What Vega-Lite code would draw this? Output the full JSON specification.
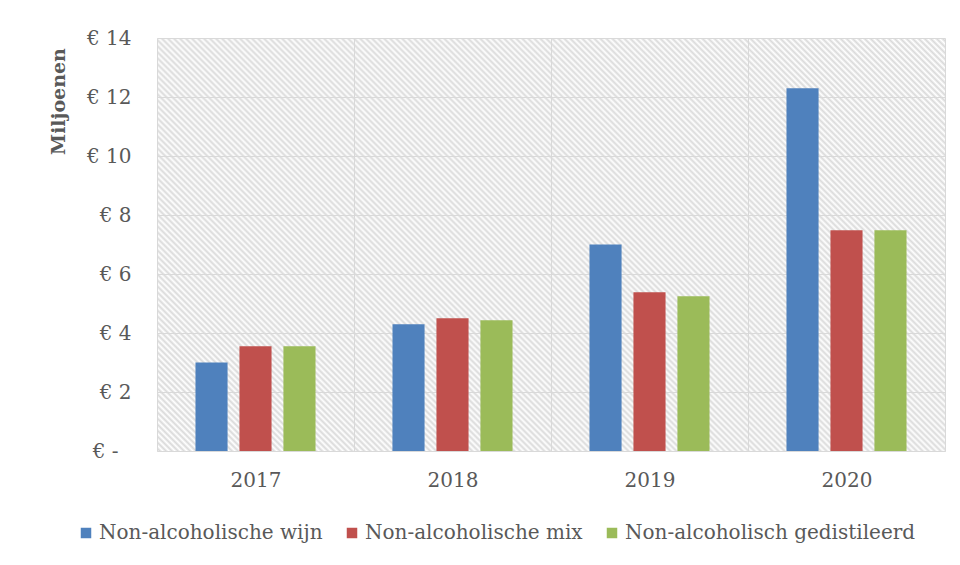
{
  "$schema": "https://vega.github.io/schema/vega-lite/v6.json",
  "width": 788,
  "height": 413,
  "autosize": {"type": "none"},
  "padding": {"left": 157, "top": 38, "right": 15, "bottom": 114},
  "background": "#ffffff",
  "data": {
    "values": [
      {"year": "2017", "series": "Non-alcoholische wijn", "value": 3.0},
      {"year": "2017", "series": "Non-alcoholische mix", "value": 3.55},
      {"year": "2017", "series": "Non-alcoholisch gedistileerd", "value": 3.55},
      {"year": "2018", "series": "Non-alcoholische wijn", "value": 4.3},
      {"year": "2018", "series": "Non-alcoholische mix", "value": 4.5},
      {"year": "2018", "series": "Non-alcoholisch gedistileerd", "value": 4.43},
      {"year": "2019", "series": "Non-alcoholische wijn", "value": 7.0},
      {"year": "2019", "series": "Non-alcoholische mix", "value": 5.38},
      {"year": "2019", "series": "Non-alcoholisch gedistileerd", "value": 5.25},
      {"year": "2020", "series": "Non-alcoholische wijn", "value": 12.3},
      {"year": "2020", "series": "Non-alcoholische mix", "value": 7.48},
      {"year": "2020", "series": "Non-alcoholisch gedistileerd", "value": 7.48}
    ]
  },
  "mark": {"type": "bar"},
  "encoding": {
    "x": {
      "field": "year",
      "type": "nominal",
      "scale": {"paddingInner": 0, "paddingOuter": 0},
      "axis": {
        "title": null,
        "labelAngle": 0,
        "tickBand": "extent",
        "ticks": false,
        "tickSize": 0,
        "grid": true,
        "gridColor": "#d9d9d9",
        "gridWidth": 1,
        "domain": true,
        "domainColor": "#d9d9d9",
        "labelPadding": 19,
        "labelFont": "DejaVu Serif",
        "labelFontSize": 20,
        "labelColor": "#595959"
      }
    },
    "xOffset": {
      "field": "series",
      "type": "nominal",
      "sort": ["Non-alcoholische wijn", "Non-alcoholische mix", "Non-alcoholisch gedistileerd"],
      "scale": {"paddingInner": 0.27, "paddingOuter": 0.875}
    },
    "y": {
      "field": "value",
      "type": "quantitative",
      "scale": {"domain": [0, 14], "nice": false},
      "axis": {
        "title": "Miljoenen",
        "values": [0, 2, 4, 6, 8, 10, 12, 14],
        "labelExpr": "datum.value == 0 ? '€ -' : '€ ' + datum.value",
        "domain": false,
        "ticks": false,
        "tickSize": 0,
        "grid": true,
        "gridColor": "#d9d9d9",
        "gridWidth": 1,
        "labelPadding": {"condition": {"test": "datum.value == 0", "value": 39}, "value": 26},
        "labelFont": "DejaVu Serif",
        "labelFontSize": 20,
        "labelColor": "#595959",
        "titleFont": "DejaVu Serif",
        "titleFontSize": 19,
        "titleFontWeight": "bold",
        "titleColor": "#595959",
        "titleX": -99,
        "titleY": 63,
        "titleAngle": -90,
        "titleAlign": "center",
        "titleBaseline": "middle"
      }
    },
    "color": {
      "field": "series",
      "type": "nominal",
      "scale": {
        "domain": ["Non-alcoholische wijn", "Non-alcoholische mix", "Non-alcoholisch gedistileerd"],
        "range": ["#4f81bd", "#c0504d", "#9bbb59"]
      },
      "legend": {
        "title": null,
        "orient": "none",
        "direction": "horizontal",
        "legendX": -81,
        "legendY": 485,
        "padding": 0,
        "symbolType": "square",
        "symbolSize": 110,
        "symbolStrokeWidth": 0,
        "labelFont": "DejaVu Serif",
        "labelFontSize": 20,
        "labelColor": "#595959",
        "labelOffset": 3,
        "columnPadding": 19,
        "labelLimit": 400
      }
    }
  },
  "config": {
    "view": {
      "stroke": null,
      "fill": {
        "gradient": "linear",
        "x1": 0, "y1": 1, "x2": 1.1957, "y2": 0.3734,
        "stops": [
{"offset":0.00,"color":"#fff"},{"offset":0.0025,"color":"#dadada"},{"offset":0.005,"color":"#fff"},{"offset":0.0075,"color":"#dadada"},
{"offset":0.01,"color":"#fff"},{"offset":0.0125,"color":"#dadada"},{"offset":0.015,"color":"#fff"},{"offset":0.0175,"color":"#dadada"},
{"offset":0.02,"color":"#fff"},{"offset":0.0225,"color":"#dadada"},{"offset":0.025,"color":"#fff"},{"offset":0.0275,"color":"#dadada"},
{"offset":0.03,"color":"#fff"},{"offset":0.0325,"color":"#dadada"},{"offset":0.035,"color":"#fff"},{"offset":0.0375,"color":"#dadada"},
{"offset":0.04,"color":"#fff"},{"offset":0.0425,"color":"#dadada"},{"offset":0.045,"color":"#fff"},{"offset":0.0475,"color":"#dadada"},
{"offset":0.05,"color":"#fff"},{"offset":0.0525,"color":"#dadada"},{"offset":0.055,"color":"#fff"},{"offset":0.0575,"color":"#dadada"},
{"offset":0.06,"color":"#fff"},{"offset":0.0625,"color":"#dadada"},{"offset":0.065,"color":"#fff"},{"offset":0.0675,"color":"#dadada"},
{"offset":0.07,"color":"#fff"},{"offset":0.0725,"color":"#dadada"},{"offset":0.075,"color":"#fff"},{"offset":0.0775,"color":"#dadada"},
{"offset":0.08,"color":"#fff"},{"offset":0.0825,"color":"#dadada"},{"offset":0.085,"color":"#fff"},{"offset":0.0875,"color":"#dadada"},
{"offset":0.09,"color":"#fff"},{"offset":0.0925,"color":"#dadada"},{"offset":0.095,"color":"#fff"},{"offset":0.0975,"color":"#dadada"},
{"offset":0.10,"color":"#fff"},{"offset":0.1025,"color":"#dadada"},{"offset":0.105,"color":"#fff"},{"offset":0.1075,"color":"#dadada"},
{"offset":0.11,"color":"#fff"},{"offset":0.1125,"color":"#dadada"},{"offset":0.115,"color":"#fff"},{"offset":0.1175,"color":"#dadada"},
{"offset":0.12,"color":"#fff"},{"offset":0.1225,"color":"#dadada"},{"offset":0.125,"color":"#fff"},{"offset":0.1275,"color":"#dadada"},
{"offset":0.13,"color":"#fff"},{"offset":0.1325,"color":"#dadada"},{"offset":0.135,"color":"#fff"},{"offset":0.1375,"color":"#dadada"},
{"offset":0.14,"color":"#fff"},{"offset":0.1425,"color":"#dadada"},{"offset":0.145,"color":"#fff"},{"offset":0.1475,"color":"#dadada"},
{"offset":0.15,"color":"#fff"},{"offset":0.1525,"color":"#dadada"},{"offset":0.155,"color":"#fff"},{"offset":0.1575,"color":"#dadada"},
{"offset":0.16,"color":"#fff"},{"offset":0.1625,"color":"#dadada"},{"offset":0.165,"color":"#fff"},{"offset":0.1675,"color":"#dadada"},
{"offset":0.17,"color":"#fff"},{"offset":0.1725,"color":"#dadada"},{"offset":0.175,"color":"#fff"},{"offset":0.1775,"color":"#dadada"},
{"offset":0.18,"color":"#fff"},{"offset":0.1825,"color":"#dadada"},{"offset":0.185,"color":"#fff"},{"offset":0.1875,"color":"#dadada"},
{"offset":0.19,"color":"#fff"},{"offset":0.1925,"color":"#dadada"},{"offset":0.195,"color":"#fff"},{"offset":0.1975,"color":"#dadada"},
{"offset":0.20,"color":"#fff"},{"offset":0.2025,"color":"#dadada"},{"offset":0.205,"color":"#fff"},{"offset":0.2075,"color":"#dadada"},
{"offset":0.21,"color":"#fff"},{"offset":0.2125,"color":"#dadada"},{"offset":0.215,"color":"#fff"},{"offset":0.2175,"color":"#dadada"},
{"offset":0.22,"color":"#fff"},{"offset":0.2225,"color":"#dadada"},{"offset":0.225,"color":"#fff"},{"offset":0.2275,"color":"#dadada"},
{"offset":0.23,"color":"#fff"},{"offset":0.2325,"color":"#dadada"},{"offset":0.235,"color":"#fff"},{"offset":0.2375,"color":"#dadada"},
{"offset":0.24,"color":"#fff"},{"offset":0.2425,"color":"#dadada"},{"offset":0.245,"color":"#fff"},{"offset":0.2475,"color":"#dadada"},
{"offset":0.25,"color":"#fff"},{"offset":0.2525,"color":"#dadada"},{"offset":0.255,"color":"#fff"},{"offset":0.2575,"color":"#dadada"},
{"offset":0.26,"color":"#fff"},{"offset":0.2625,"color":"#dadada"},{"offset":0.265,"color":"#fff"},{"offset":0.2675,"color":"#dadada"},
{"offset":0.27,"color":"#fff"},{"offset":0.2725,"color":"#dadada"},{"offset":0.275,"color":"#fff"},{"offset":0.2775,"color":"#dadada"},
{"offset":0.28,"color":"#fff"},{"offset":0.2825,"color":"#dadada"},{"offset":0.285,"color":"#fff"},{"offset":0.2875,"color":"#dadada"},
{"offset":0.29,"color":"#fff"},{"offset":0.2925,"color":"#dadada"},{"offset":0.295,"color":"#fff"},{"offset":0.2975,"color":"#dadada"},
{"offset":0.30,"color":"#fff"},{"offset":0.3025,"color":"#dadada"},{"offset":0.305,"color":"#fff"},{"offset":0.3075,"color":"#dadada"},
{"offset":0.31,"color":"#fff"},{"offset":0.3125,"color":"#dadada"},{"offset":0.315,"color":"#fff"},{"offset":0.3175,"color":"#dadada"},
{"offset":0.32,"color":"#fff"},{"offset":0.3225,"color":"#dadada"},{"offset":0.325,"color":"#fff"},{"offset":0.3275,"color":"#dadada"},
{"offset":0.33,"color":"#fff"},{"offset":0.3325,"color":"#dadada"},{"offset":0.335,"color":"#fff"},{"offset":0.3375,"color":"#dadada"},
{"offset":0.34,"color":"#fff"},{"offset":0.3425,"color":"#dadada"},{"offset":0.345,"color":"#fff"},{"offset":0.3475,"color":"#dadada"},
{"offset":0.35,"color":"#fff"},{"offset":0.3525,"color":"#dadada"},{"offset":0.355,"color":"#fff"},{"offset":0.3575,"color":"#dadada"},
{"offset":0.36,"color":"#fff"},{"offset":0.3625,"color":"#dadada"},{"offset":0.365,"color":"#fff"},{"offset":0.3675,"color":"#dadada"},
{"offset":0.37,"color":"#fff"},{"offset":0.3725,"color":"#dadada"},{"offset":0.375,"color":"#fff"},{"offset":0.3775,"color":"#dadada"},
{"offset":0.38,"color":"#fff"},{"offset":0.3825,"color":"#dadada"},{"offset":0.385,"color":"#fff"},{"offset":0.3875,"color":"#dadada"},
{"offset":0.39,"color":"#fff"},{"offset":0.3925,"color":"#dadada"},{"offset":0.395,"color":"#fff"},{"offset":0.3975,"color":"#dadada"},
{"offset":0.40,"color":"#fff"},{"offset":0.4025,"color":"#dadada"},{"offset":0.405,"color":"#fff"},{"offset":0.4075,"color":"#dadada"},
{"offset":0.41,"color":"#fff"},{"offset":0.4125,"color":"#dadada"},{"offset":0.415,"color":"#fff"},{"offset":0.4175,"color":"#dadada"},
{"offset":0.42,"color":"#fff"},{"offset":0.4225,"color":"#dadada"},{"offset":0.425,"color":"#fff"},{"offset":0.4275,"color":"#dadada"},
{"offset":0.43,"color":"#fff"},{"offset":0.4325,"color":"#dadada"},{"offset":0.435,"color":"#fff"},{"offset":0.4375,"color":"#dadada"},
{"offset":0.44,"color":"#fff"},{"offset":0.4425,"color":"#dadada"},{"offset":0.445,"color":"#fff"},{"offset":0.4475,"color":"#dadada"},
{"offset":0.45,"color":"#fff"},{"offset":0.4525,"color":"#dadada"},{"offset":0.455,"color":"#fff"},{"offset":0.4575,"color":"#dadada"},
{"offset":0.46,"color":"#fff"},{"offset":0.4625,"color":"#dadada"},{"offset":0.465,"color":"#fff"},{"offset":0.4675,"color":"#dadada"},
{"offset":0.47,"color":"#fff"},{"offset":0.4725,"color":"#dadada"},{"offset":0.475,"color":"#fff"},{"offset":0.4775,"color":"#dadada"},
{"offset":0.48,"color":"#fff"},{"offset":0.4825,"color":"#dadada"},{"offset":0.485,"color":"#fff"},{"offset":0.4875,"color":"#dadada"},
{"offset":0.49,"color":"#fff"},{"offset":0.4925,"color":"#dadada"},{"offset":0.495,"color":"#fff"},{"offset":0.4975,"color":"#dadada"},
{"offset":0.50,"color":"#fff"},{"offset":0.5025,"color":"#dadada"},{"offset":0.505,"color":"#fff"},{"offset":0.5075,"color":"#dadada"},
{"offset":0.51,"color":"#fff"},{"offset":0.5125,"color":"#dadada"},{"offset":0.515,"color":"#fff"},{"offset":0.5175,"color":"#dadada"},
{"offset":0.52,"color":"#fff"},{"offset":0.5225,"color":"#dadada"},{"offset":0.525,"color":"#fff"},{"offset":0.5275,"color":"#dadada"},
{"offset":0.53,"color":"#fff"},{"offset":0.5325,"color":"#dadada"},{"offset":0.535,"color":"#fff"},{"offset":0.5375,"color":"#dadada"},
{"offset":0.54,"color":"#fff"},{"offset":0.5425,"color":"#dadada"},{"offset":0.545,"color":"#fff"},{"offset":0.5475,"color":"#dadada"},
{"offset":0.55,"color":"#fff"},{"offset":0.5525,"color":"#dadada"},{"offset":0.555,"color":"#fff"},{"offset":0.5575,"color":"#dadada"},
{"offset":0.56,"color":"#fff"},{"offset":0.5625,"color":"#dadada"},{"offset":0.565,"color":"#fff"},{"offset":0.5675,"color":"#dadada"},
{"offset":0.57,"color":"#fff"},{"offset":0.5725,"color":"#dadada"},{"offset":0.575,"color":"#fff"},{"offset":0.5775,"color":"#dadada"},
{"offset":0.58,"color":"#fff"},{"offset":0.5825,"color":"#dadada"},{"offset":0.585,"color":"#fff"},{"offset":0.5875,"color":"#dadada"},
{"offset":0.59,"color":"#fff"},{"offset":0.5925,"color":"#dadada"},{"offset":0.595,"color":"#fff"},{"offset":0.5975,"color":"#dadada"},
{"offset":0.60,"color":"#fff"},{"offset":0.6025,"color":"#dadada"},{"offset":0.605,"color":"#fff"},{"offset":0.6075,"color":"#dadada"},
{"offset":0.61,"color":"#fff"},{"offset":0.6125,"color":"#dadada"},{"offset":0.615,"color":"#fff"},{"offset":0.6175,"color":"#dadada"},
{"offset":0.62,"color":"#fff"},{"offset":0.6225,"color":"#dadada"},{"offset":0.625,"color":"#fff"},{"offset":0.6275,"color":"#dadada"},
{"offset":0.63,"color":"#fff"},{"offset":0.6325,"color":"#dadada"},{"offset":0.635,"color":"#fff"},{"offset":0.6375,"color":"#dadada"},
{"offset":0.64,"color":"#fff"},{"offset":0.6425,"color":"#dadada"},{"offset":0.645,"color":"#fff"},{"offset":0.6475,"color":"#dadada"},
{"offset":0.65,"color":"#fff"},{"offset":0.6525,"color":"#dadada"},{"offset":0.655,"color":"#fff"},{"offset":0.6575,"color":"#dadada"},
{"offset":0.66,"color":"#fff"},{"offset":0.6625,"color":"#dadada"},{"offset":0.665,"color":"#fff"},{"offset":0.6675,"color":"#dadada"},
{"offset":0.67,"color":"#fff"},{"offset":0.6725,"color":"#dadada"},{"offset":0.675,"color":"#fff"},{"offset":0.6775,"color":"#dadada"},
{"offset":0.68,"color":"#fff"},{"offset":0.6825,"color":"#dadada"},{"offset":0.685,"color":"#fff"},{"offset":0.6875,"color":"#dadada"},
{"offset":0.69,"color":"#fff"},{"offset":0.6925,"color":"#dadada"},{"offset":0.695,"color":"#fff"},{"offset":0.6975,"color":"#dadada"},
{"offset":0.70,"color":"#fff"},{"offset":0.7025,"color":"#dadada"},{"offset":0.705,"color":"#fff"},{"offset":0.7075,"color":"#dadada"},
{"offset":0.71,"color":"#fff"},{"offset":0.7125,"color":"#dadada"},{"offset":0.715,"color":"#fff"},{"offset":0.7175,"color":"#dadada"},
{"offset":0.72,"color":"#fff"},{"offset":0.7225,"color":"#dadada"},{"offset":0.725,"color":"#fff"},{"offset":0.7275,"color":"#dadada"},
{"offset":0.73,"color":"#fff"},{"offset":0.7325,"color":"#dadada"},{"offset":0.735,"color":"#fff"},{"offset":0.7375,"color":"#dadada"},
{"offset":0.74,"color":"#fff"},{"offset":0.7425,"color":"#dadada"},{"offset":0.745,"color":"#fff"},{"offset":0.7475,"color":"#dadada"},
{"offset":0.75,"color":"#fff"},{"offset":0.7525,"color":"#dadada"},{"offset":0.755,"color":"#fff"},{"offset":0.7575,"color":"#dadada"},
{"offset":0.76,"color":"#fff"},{"offset":0.7625,"color":"#dadada"},{"offset":0.765,"color":"#fff"},{"offset":0.7675,"color":"#dadada"},
{"offset":0.77,"color":"#fff"},{"offset":0.7725,"color":"#dadada"},{"offset":0.775,"color":"#fff"},{"offset":0.7775,"color":"#dadada"},
{"offset":0.78,"color":"#fff"},{"offset":0.7825,"color":"#dadada"},{"offset":0.785,"color":"#fff"},{"offset":0.7875,"color":"#dadada"},
{"offset":0.79,"color":"#fff"},{"offset":0.7925,"color":"#dadada"},{"offset":0.795,"color":"#fff"},{"offset":0.7975,"color":"#dadada"},
{"offset":0.80,"color":"#fff"},{"offset":0.8025,"color":"#dadada"},{"offset":0.805,"color":"#fff"},{"offset":0.8075,"color":"#dadada"},
{"offset":0.81,"color":"#fff"},{"offset":0.8125,"color":"#dadada"},{"offset":0.815,"color":"#fff"},{"offset":0.8175,"color":"#dadada"},
{"offset":0.82,"color":"#fff"},{"offset":0.8225,"color":"#dadada"},{"offset":0.825,"color":"#fff"},{"offset":0.8275,"color":"#dadada"},
{"offset":0.83,"color":"#fff"},{"offset":0.8325,"color":"#dadada"},{"offset":0.835,"color":"#fff"},{"offset":0.8375,"color":"#dadada"},
{"offset":0.84,"color":"#fff"},{"offset":0.8425,"color":"#dadada"},{"offset":0.845,"color":"#fff"},{"offset":0.8475,"color":"#dadada"},
{"offset":0.85,"color":"#fff"},{"offset":0.8525,"color":"#dadada"},{"offset":0.855,"color":"#fff"},{"offset":0.8575,"color":"#dadada"},
{"offset":0.86,"color":"#fff"},{"offset":0.8625,"color":"#dadada"},{"offset":0.865,"color":"#fff"},{"offset":0.8675,"color":"#dadada"},
{"offset":0.87,"color":"#fff"},{"offset":0.8725,"color":"#dadada"},{"offset":0.875,"color":"#fff"},{"offset":0.8775,"color":"#dadada"},
{"offset":0.88,"color":"#fff"},{"offset":0.8825,"color":"#dadada"},{"offset":0.885,"color":"#fff"},{"offset":0.8875,"color":"#dadada"},
{"offset":0.89,"color":"#fff"},{"offset":0.8925,"color":"#dadada"},{"offset":0.895,"color":"#fff"},{"offset":0.8975,"color":"#dadada"},
{"offset":0.90,"color":"#fff"},{"offset":0.9025,"color":"#dadada"},{"offset":0.905,"color":"#fff"},{"offset":0.9075,"color":"#dadada"},
{"offset":0.91,"color":"#fff"},{"offset":0.9125,"color":"#dadada"},{"offset":0.915,"color":"#fff"},{"offset":0.9175,"color":"#dadada"},
{"offset":0.92,"color":"#fff"},{"offset":0.9225,"color":"#dadada"},{"offset":0.925,"color":"#fff"},{"offset":0.9275,"color":"#dadada"},
{"offset":0.93,"color":"#fff"},{"offset":0.9325,"color":"#dadada"},{"offset":0.935,"color":"#fff"},{"offset":0.9375,"color":"#dadada"},
{"offset":0.94,"color":"#fff"},{"offset":0.9425,"color":"#dadada"},{"offset":0.945,"color":"#fff"},{"offset":0.9475,"color":"#dadada"},
{"offset":0.95,"color":"#fff"},{"offset":0.9525,"color":"#dadada"},{"offset":0.955,"color":"#fff"},{"offset":0.9575,"color":"#dadada"},
{"offset":0.96,"color":"#fff"},{"offset":0.9625,"color":"#dadada"},{"offset":0.965,"color":"#fff"},{"offset":0.9675,"color":"#dadada"},
{"offset":0.97,"color":"#fff"},{"offset":0.9725,"color":"#dadada"},{"offset":0.975,"color":"#fff"},{"offset":0.9775,"color":"#dadada"},
{"offset":0.98,"color":"#fff"},{"offset":0.9825,"color":"#dadada"},{"offset":0.985,"color":"#fff"},{"offset":0.9875,"color":"#dadada"},
{"offset":0.99,"color":"#fff"},{"offset":0.9925,"color":"#dadada"},{"offset":0.995,"color":"#fff"},{"offset":0.9975,"color":"#dadada"},
{"offset":1,"color":"#fff"}
        ]
      }
    }
  }
}
